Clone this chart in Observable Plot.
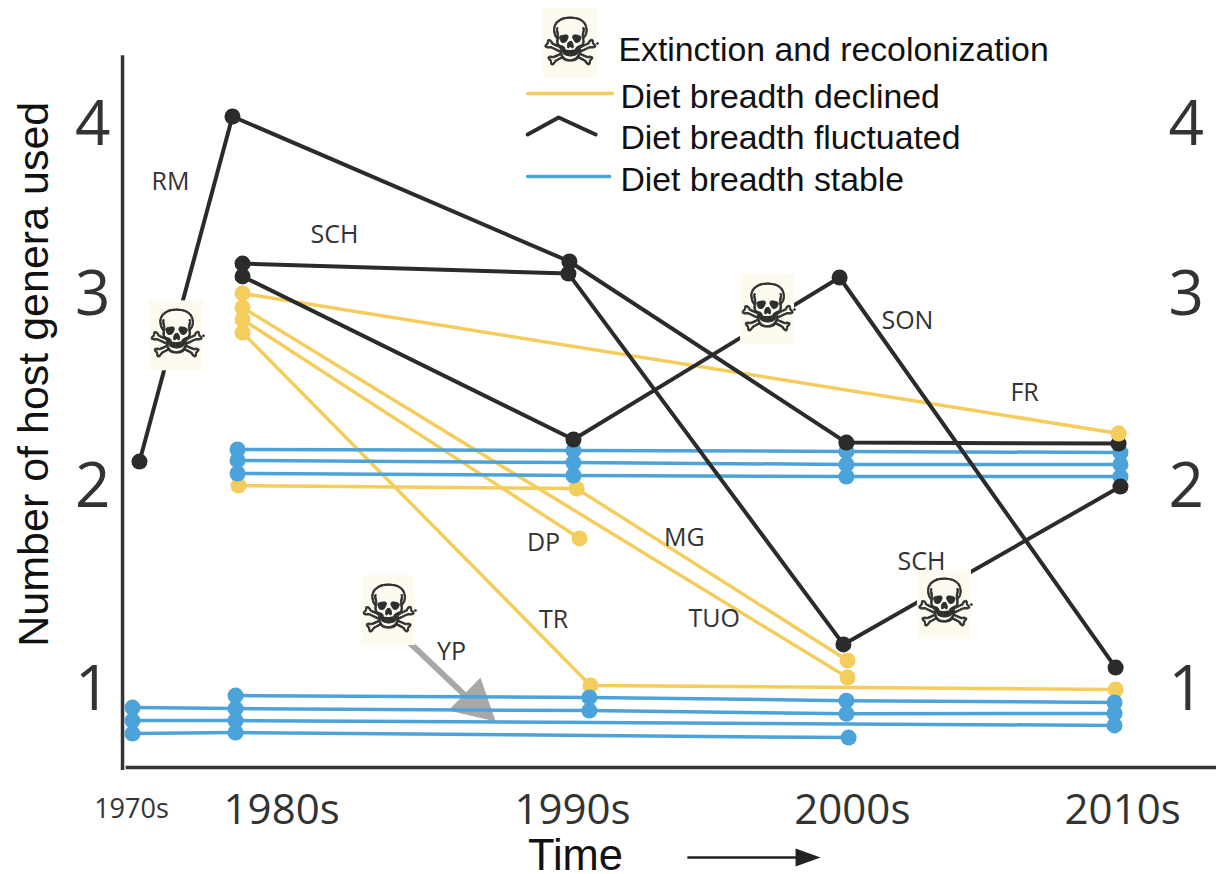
<!DOCTYPE html>
<html>
<head>
<meta charset="utf-8">
<script src="https://cdn.jsdelivr.net/npm/d3@7"></script>
<script src="https://cdn.jsdelivr.net/npm/@observablehq/plot@0.6"></script>
<style>
html,body{margin:0;padding:0;background:#fff;overflow:hidden}
svg{display:block}
</style>
</head>
<body>
<div id="chart"></div>
<script>
// Series: [time, number of host genera]
const rm  = [[1970.66,2.135],[1979.43,4.053],[1989.82,3.20],[1999.96,2.234],[2010.04,2.229]];
const sch = [[1980.12,3.188],[1989.79,3.129],[1999.85,1.227],[2010.11,2.005]];
const son = [[1980.12,3.112],[1989.94,2.25],[1999.71,3.106],[2009.93,1.113]];

const fr  = [[1980.12,3.012],[2010.04,2.281]];
const tuo = [[1980.12,2.9375],[2000,1.064]];
const dp  = [[1980.12,2.875],[1990.15,1.749]];
const tr  = [[1980.12,2.807],[1990.55,1.025],[2009.93,1.005]];
const mg  = [[1980,2.01],[1990.04,1.995],[2000,1.148]];

const stableA = [[1979.91,2.198],[1989.94,2.193],[1999.96,2.188],[2010.11,2.182]];
const stableB = [[1979.91,2.141],[1989.94,2.130],[1999.96,2.120],[2010.11,2.120]];
const stableC = [[1979.91,2.073],[1989.94,2.0625],[1999.96,2.057],[2010.11,2.057]];
const stableD = [[1979.72,0.975],[1990.51,0.966],[1999.96,0.950],[2009.89,0.941]];
const stableE = [[1970,0.916],[1979.72,0.911],[1990.51,0.901],[1999.96,0.885],[2009.89,0.887]];
const stableF = [[1970,0.852],[1979.72,0.852],[2009.89,0.828]];
const stableG = [[1970,0.788],[1979.72,0.793],[2000.04,0.768]];

const fluctuated = [rm, sch, son];
const declined = [fr, tuo, dp, tr, mg];
const stable = [stableA, stableB, stableC, stableD, stableE, stableF, stableG];

const seriesLabels = ["RM","SCH","SON","FR","DP","MG","TUO","TR","YP","SCH"];
const seriesLabelX = [1973.58,1982.85,2002.22,2006.56,1989.05,1994.0,1995.1,1989.35,1986.32,2002.74];
const seriesLabelY = [3.67,3.353,2.865,2.49,1.729,1.749,1.35,1.345,1.192,1.635];

const extinctionX = [1974.15,1997.06,1984.45,2003.59,1989.85];
const extinctionY = [2.79,2.927,1.394,1.424,4.482];

const ypShaft = [[1985.1,1.232],[1986.88,0.951]];
const ypHead = [[1987.18,1.064],[1987.63,0.847],[1986.23,0.901]];

const decadeLabels = ["1980s","1990s","2000s","2010s"];
const decadeTicks = [1981.28,1989.91,2000.18,2010.19];
const smallLabel = ["1970s"];
const smallTick = [1969.9];
const genusTicks = [1,2,3,4];

const legendLabels = ["Extinction and recolonization","Diet breadth declined","Diet breadth fluctuated","Diet breadth stable"];
const legendLabelX = [1991.58,1991.65,1991.65,1991.65];
const legendLabelY = [4.441,4.165,3.924,3.676];
const legendDeclined = [[1988.58,4.188],[1991.36,4.188]];
const legendFluct = [[1988.58,3.947],[1989.5,4.047],[1990.74,3.947]];
const legendStable = [[1988.58,3.70],[1991.25,3.70]];

const timeArrow = [[1994.15,0.177],[1998.2,0.177]];
const timeHead = [[1998.09,0.222],[1999.01,0.177],[1998.09,0.133]];

const BLACK = "#2b2b2b", YELLOW = "#f4cd5c", BLUE = "#4ba3d9", GREY = "#a8a8a8", TILE = "#fdfaf0";
const SANS = "Open Sans", HELV = "Liberation Sans";
const X = d => d[0], Y = d => d[1];

const lines = (group, stroke, w) => group.map(s => Plot.line(s, {x: X, y: Y, stroke, strokeWidth: w}));
const dots = (group, fill, r) => group.map(s => Plot.dot(s, {x: X, y: Y, fill, r}));

const chart = Plot.plot({
  width: 1216,
  height: 874,
  marginLeft: 122,
  marginRight: 66,
  marginTop: 0,
  marginBottom: 104,
  style: {background: "transparent", overflow: "visible"},
  x: {type: "linear", domain: [1970,1980,1990,2000,2010], range: [132,238,575,847,1117], label: null},
  y: {type: "linear", domain: [1,2,3,4], range: [690,487,295,125], label: null},
  marks: [
    Plot.axisY({anchor: "left", ticks: genusTicks, tickFormat: d => String(d), tickSize: 0, tickPadding: 12, fontSize: 62, fontFamily: SANS, color: "#333", label: null}),
    Plot.axisY({anchor: "right", ticks: genusTicks, tickFormat: d => String(d), tickSize: 0, tickPadding: 18, fontSize: 62, fontFamily: SANS, color: "#333", label: null}),
    Plot.axisX({anchor: "bottom", ticks: decadeTicks, tickFormat: (d, i) => decadeLabels[i], tickSize: 0, tickPadding: 24, fontSize: 42, fontFamily: SANS, color: "#333", label: null}),
    Plot.axisX({anchor: "bottom", ticks: smallTick, tickFormat: () => smallLabel[0], tickSize: 0, tickPadding: 28, fontSize: 27, fontFamily: SANS, color: "#333", label: null}),

    Plot.ruleX([1969.06], {y1: 4.41, y2: 0.606, stroke: "#333", strokeWidth: 3.5}),
    Plot.ruleY([0.621], {x1: 1969.4, x2: 2013.7, stroke: "#333", strokeWidth: 3.5}),

    Plot.line(ypShaft, {x: X, y: Y, stroke: GREY, strokeWidth: 6}),
    Plot.line(ypHead, {x: X, y: Y, fill: GREY, stroke: "none"}),

    ...lines(declined, YELLOW, 3.5),
    ...lines(stable, BLUE, 3.5),
    ...lines(fluctuated, BLACK, 4),
    ...dots(declined, YELLOW, 8),
    ...dots(stable, BLUE, 8),
    ...dots(fluctuated, BLACK, 8),
    Plot.dot(fr.slice(1), {x: X, y: Y, fill: YELLOW, r: 8}),

    Plot.rect(extinctionX, {x1: d => d, x2: d => d, y1: (d, i) => extinctionY[i], y2: (d, i) => extinctionY[i],
      insetLeft: -27, insetRight: -27, insetTop: -35, insetBottom: -35, fill: TILE}),
    Plot.text(extinctionX, {x: d => d, y: (d, i) => extinctionY[i], text: () => "\u2620", fontSize: 66, fontFamily: "DejaVu Sans", fill: "#2e2e2e", stroke: "#2e2e2e", strokeWidth: 0.8}),
    Plot.dot(extinctionX, {x: d => d, y: (d, i) => extinctionY[i], dx: 27, r: 1.3, fill: "#222"}),

    Plot.text(seriesLabels, {x: (d, i) => seriesLabelX[i], y: (d, i) => seriesLabelY[i], text: d => d, fontSize: 25, fontFamily: SANS, fill: "#333"}),

    Plot.line(legendDeclined, {x: X, y: Y, stroke: YELLOW, strokeWidth: 3.5}),
    Plot.line(legendFluct, {x: X, y: Y, stroke: BLACK, strokeWidth: 4}),
    Plot.line(legendStable, {x: X, y: Y, stroke: BLUE, strokeWidth: 3.5}),
    Plot.text(legendLabels, {x: (d, i) => legendLabelX[i], y: (d, i) => legendLabelY[i], text: d => d, textAnchor: "start", fontSize: 33.8, fontFamily: HELV, fill: "#111"}),

    Plot.text(["Number of host genera used"], {x: [1960.7], y: [2.59], rotate: -90, fontSize: 43, fontFamily: HELV, fill: "#111"}),
    Plot.text(["Time"], {x: [1990], y: [0.185], fontSize: 43.5, fontFamily: HELV, fill: "#111"}),
    Plot.line(timeArrow, {x: X, y: Y, stroke: "#222", strokeWidth: 2.5}),
    Plot.line(timeHead, {x: X, y: Y, fill: "#222", stroke: "none"})
  ]
});
document.getElementById("chart").appendChild(chart);
</script>
</body>
</html>
